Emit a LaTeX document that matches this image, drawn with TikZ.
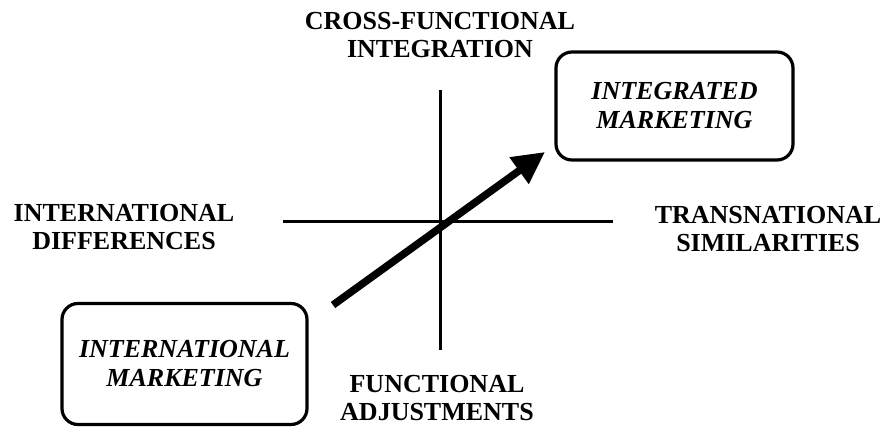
\documentclass[tikz,border=0pt]{standalone}
\usepackage{fontspec}
\setmainfont{Liberation Serif}
\usetikzlibrary{arrows.meta}

\begin{document}
\begin{tikzpicture}[x=1pt,y=-1pt,
    lbl/.style={font=\fontsize{26}{28}\selectfont\bfseries,align=center,inner sep=0pt},
    mktbox/.style={draw,line width=3.2pt,rounded corners=16pt,align=center,
        font=\fontsize{26}{29}\selectfont\bfseries\itshape}]

    \useasboundingbox (0,0) rectangle (887,427);

    % Gambar sumbu
    \coordinate (top) at (440,90);
    \coordinate (bot) at (440,350);
    \coordinate (lft) at (283,222);
    \coordinate (rgt) at (613,222);
    \draw[line width=3pt] (top)--(bot);
    \draw[line width=3pt] (lft)--(rgt);

    % Label pada ujung sumbu
    \node[lbl] (cross) at (440,35) {CROSS-FUNCTIONAL\\INTEGRATION};
    \node[lbl] (adjust) at (437,398) {FUNCTIONAL\\ADJUSTMENTS};
    \node[lbl] (differ) at (124,227) {INTERNATIONAL\\DIFFERENCES};
    \node[lbl] (simil) at (768,229) {TRANSNATIONAL\\SIMILARITIES};

    % Kotak pemasaran
    \node[mktbox,minimum width=245pt,minimum height=121pt] (intmkt) at (184.5,364) {INTERNATIONAL\\MARKETING};
    \node[mktbox,minimum width=237pt,minimum height=108pt] (intgmkt) at (674.5,106) {INTEGRATED\\MARKETING};

    % Panah dari kiri bawah ke kanan atas
    \coordinate (from) at (333,305);
    \coordinate (to) at (545,152);
    \draw[line width=7.5pt,-{Triangle[length=32pt,width=31pt]}] (from)--(to);

\end{tikzpicture}
\end{document}
